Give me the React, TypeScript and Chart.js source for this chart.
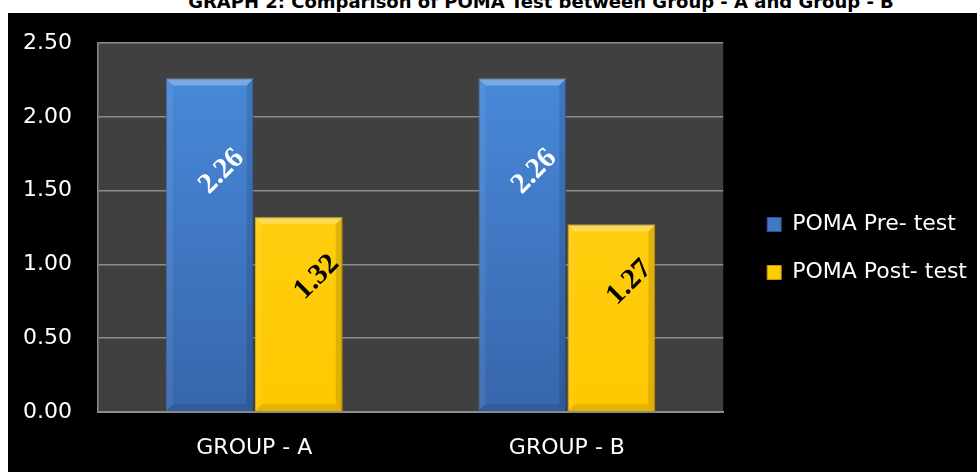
import React, { useEffect, useRef } from "react";
import { Chart, registerables } from "chart.js";

Chart.register(...registerables);

const categories = ["GROUP - A", "GROUP - B"];
const preTest = [2.26, 2.26];
const postTest = [1.32, 1.27];
const seriesNames = ["POMA Pre- test", "POMA Post- test"];
const yTicks = [0, 0.5, 1, 1.5, 2, 2.5];
const titleText = "GRAPH 2: Comparison of POMA Test between Group - A and Group - B";

const FONT = "'DejaVu Sans', sans-serif";

function makeGrad(chart: any, top: string, bottom: string, solid: string) {
  const area = chart.chartArea;
  if (!area) return solid;
  const g = chart.ctx.createLinearGradient(0, area.top, 0, area.bottom);
  g.addColorStop(0, top);
  g.addColorStop(1, bottom);
  return g;
}

const bgPlugin = {
  id: "bgPlugin",
  beforeDraw(chart: any) {
    const { ctx, chartArea } = chart;
    ctx.save();
    ctx.fillStyle = "#000000";
    ctx.fillRect(0, 0, chart.width, chart.height);
    ctx.fillStyle = "#404040";
    ctx.fillRect(chartArea.left, chartArea.top, chartArea.right - chartArea.left, chartArea.bottom - chartArea.top);
    ctx.restore();
  },
};

const legendShift = {
  id: "legendShift",
  afterLayout(chart: any) {
    const lg = chart.legend;
    if (lg) {
      lg.left += 18;
      lg.right += 18;
      lg.top -= 9;
      lg.bottom -= 9;
    }
  },
};

const barDecor = {
  id: "barDecor",
  afterDatasetsDraw(chart: any) {
    const ctx = chart.ctx;
    ctx.save();
    chart.data.datasets.forEach((ds: any, di: number) => {
      const meta = chart.getDatasetMeta(di);
      meta.data.forEach((el: any, i: number) => {
        const w = el.width;
        const left = el.x - w / 2;
        const right = el.x + w / 2;
        const top = el.y;
        const base = el.base;
        const b = 7;
        ctx.fillStyle = "rgba(255,255,255,0.28)";
        ctx.beginPath();
        ctx.moveTo(left, top);
        ctx.lineTo(right, top);
        ctx.lineTo(right - b, top + b);
        ctx.lineTo(left + b, top + b);
        ctx.closePath();
        ctx.fill();
        ctx.fillStyle = "rgba(255,255,255,0.07)";
        ctx.beginPath();
        ctx.moveTo(left, top);
        ctx.lineTo(left + b, top + b);
        ctx.lineTo(left + b, base - b);
        ctx.lineTo(left, base);
        ctx.closePath();
        ctx.fill();
        ctx.fillStyle = "rgba(0,0,0,0.12)";
        ctx.beginPath();
        ctx.moveTo(right, top);
        ctx.lineTo(right - b, top + b);
        ctx.lineTo(right - b, base - b);
        ctx.lineTo(right, base);
        ctx.closePath();
        ctx.fill();
        ctx.fillStyle = "rgba(0,0,0,0.10)";
        ctx.beginPath();
        ctx.moveTo(left, base);
        ctx.lineTo(left + b, base - b);
        ctx.lineTo(right - b, base - b);
        ctx.lineTo(right, base);
        ctx.closePath();
        ctx.fill();

        const v = ds.data[i] as number;
        const lx = el.x + (di === 0 ? 12 : 18);
        const ly = top + (di === 0 ? 0.28 : 0.31) * (base - top);
        ctx.save();
        ctx.translate(lx, ly);
        ctx.rotate(-Math.PI / 4);
        ctx.font = "bold 29px 'Liberation Serif', 'Times New Roman', serif";
        ctx.textAlign = "center";
        ctx.textBaseline = "middle";
        ctx.fillStyle = di === 0 ? "#ffffff" : "#000000";
        ctx.fillText(v.toFixed(2), 0, 0);
        ctx.restore();
      });
    });
    ctx.restore();
  },
};

export default function App() {
  const ref = useRef<HTMLCanvasElement | null>(null);

  useEffect(() => {
    document.body.style.overflow = "hidden";
    const canvas = ref.current;
    if (!canvas) return;
    const chart = new Chart(canvas, {
      type: "bar",
      data: {
        labels: categories,
        datasets: [
          {
            label: seriesNames[0],
            data: preTest,
            backgroundColor: (c: any) => makeGrad(c.chart, "#4a8cde", "#3766ab", "#3f78c6"),
            borderColor: "#2f5d9a",
            borderWidth: 1,
            categoryPercentage: 0.57,
            barPercentage: 0.985,
          },
          {
            label: seriesNames[1],
            data: postTest,
            backgroundColor: (c: any) => makeGrad(c.chart, "#ffd21a", "#ffc800", "#ffcc00"),
            borderColor: "#d9a400",
            borderWidth: 1,
            categoryPercentage: 0.57,
            barPercentage: 0.985,
          },
        ],
      },
      options: {
        responsive: false,
        animation: false,
        layout: { padding: { left: 0, top: 30, right: 18, bottom: 0 } },
        plugins: {
          title: { display: false },
          tooltip: { enabled: false },
          legend: {
            position: "right",
            labels: {
              color: "#ffffff",
              font: { family: FONT, size: 22 },
              boxWidth: 14,
              boxHeight: 14,
              padding: 26,
              generateLabels: (chart: any) => {
                const items = Chart.defaults.plugins.legend.labels.generateLabels(chart);
                const fills = ["#3f78c6", "#ffcc00"];
                const strokes = ["#2a5590", "#c99a00"];
                items.forEach((it: any, i: number) => {
                  it.fillStyle = fills[i];
                  it.strokeStyle = strokes[i];
                  it.lineWidth = 1;
                  it.fontColor = "#ffffff";
                });
                return items;
              },
            },
          },
        },
        scales: {
          x: {
            grid: { display: false },
            border: { display: true, color: "#8c8c8c", width: 2 },
            ticks: { color: "#ffffff", font: { family: FONT, size: 22 }, padding: 15 },
            afterFit: (s: any) => {
              s.height = 60;
              s.paddingLeft = 0;
              s.paddingRight = 0;
            },
          },
          y: {
            min: 0,
            max: 2.5,
            afterBuildTicks: (axis: any) => {
              axis.ticks = yTicks.map((v) => ({ value: v }));
            },
            grid: { color: "#8c8c8c", lineWidth: 1.5, drawTicks: false },
            border: { display: true, color: "#8c8c8c", width: 1.5 },
            ticks: {
              color: "#ffffff",
              font: { family: FONT, size: 22 },
              padding: 26,
              callback: (v: any) => Number(v).toFixed(2),
            },
            afterFit: (s: any) => {
              s.width = 90;
              s.paddingTop = 0;
              s.paddingBottom = 0;
            },
          },
        },
      },
      plugins: [bgPlugin, legendShift, barDecor],
    } as any);
    return () => chart.destroy();
  }, []);

  return (
    <div>
      <div
        style={{
          position: "absolute",
          left: 541,
          top: -7,
          transform: "translateX(-50%)",
          whiteSpace: "nowrap",
          fontFamily: FONT,
          fontWeight: "bold",
          fontSize: 18,
          lineHeight: "18px",
          color: "#000000",
        }}
      >
        {titleText}
      </div>
      <div style={{ position: "absolute", left: 8, top: 13, width: 969, height: 459 }}>
        <canvas ref={ref} width={969} height={459} style={{ display: "block" }} />
      </div>
    </div>
  );
}
